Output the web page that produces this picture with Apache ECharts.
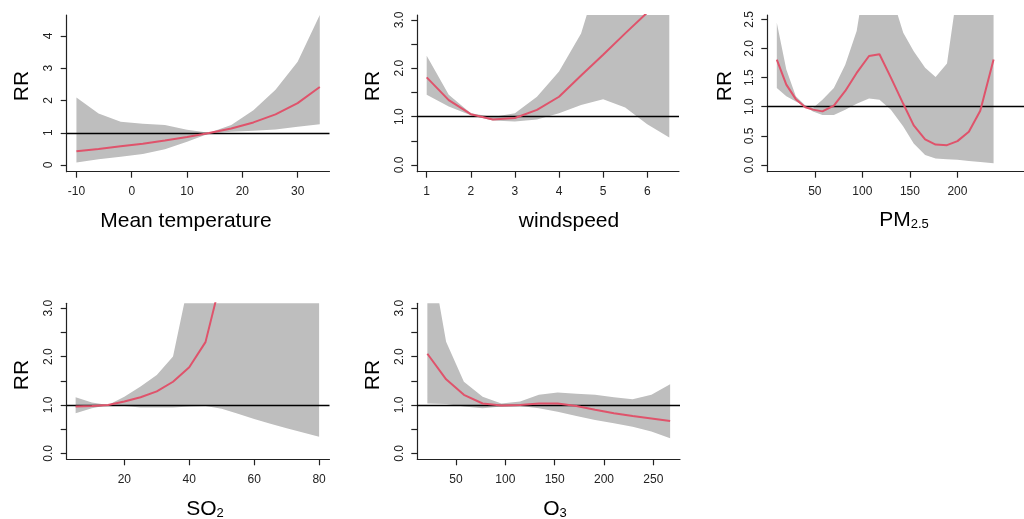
<!DOCTYPE html>
<html>
<head>
<meta charset="utf-8">
<script src="https://cdn.jsdelivr.net/npm/echarts@6/dist/echarts.min.js"></script>
<style>
  html, body { margin: 0; padding: 0; background: #fff; }
  #chart { width: 1024px; height: 519px; }
</style>
</head>
<body>
<div id="chart"></div>
<script>
// ---- Mean temperature ----
const tempX    = [-10, -6, -2, 2, 6, 10, 14, 18, 22, 26, 30, 34];
const tempRR   = [0.43, 0.50, 0.58, 0.66, 0.76, 0.87, 0.99, 1.13, 1.32, 1.57, 1.92, 2.42];
const tempLow  = [0.08, 0.18, 0.26, 0.34, 0.49, 0.72, 0.98, 1.03, 1.06, 1.10, 1.19, 1.26];
const tempHigh = [2.09, 1.60, 1.34, 1.28, 1.24, 1.09, 1.00, 1.24, 1.70, 2.33, 3.20, 4.65];
const tempXTicks = [-10, 0, 10, 20, 30];
const tempYTicks = [0, 1, 2, 3, 4];
const tempYLabels = [0, 1, 2, 3, 4];

// ---- Wind speed ----
const windX    = [1, 1.5, 2, 2.5, 3, 3.5, 4, 4.5, 5, 5.5, 6, 6.5];
const windRR   = [1.81, 1.34, 1.05, 0.94, 0.97, 1.14, 1.41, 1.85, 2.28, 2.72, 3.15, 3.58];
const windLow  = [1.45, 1.21, 1.03, 0.92, 0.90, 0.94, 1.07, 1.24, 1.36, 1.19, 0.84, 0.57];
const windHigh = [2.26, 1.45, 1.07, 0.99, 1.07, 1.41, 1.93, 2.72, 4.20, 5.20, 6.40, 7.80];
const windXTicks = [1, 2, 3, 4, 5, 6];
const windYTicks = [0, 0.5, 1, 1.5, 2, 2.5, 3];
const windYLabels = [0, 1, 2, 3];

// ---- PM2.5 ----
const pmX    = [10, 20, 30, 40, 48, 58, 70, 82, 94, 107, 118, 130, 143, 154, 166, 177, 189, 200, 212, 224, 238];
const pmRR   = [1.81, 1.38, 1.13, 0.99, 0.95, 0.92, 1.02, 1.27, 1.58, 1.87, 1.90, 1.50, 1.05, 0.68, 0.44, 0.35, 0.34, 0.41, 0.57, 0.93, 1.81];
const pmLow  = [1.32, 1.18, 1.09, 1.01, 0.92, 0.86, 0.86, 0.95, 1.05, 1.14, 1.12, 0.95, 0.66, 0.37, 0.17, 0.11, 0.10, 0.09, 0.07, 0.05, 0.03];
const pmHigh = [2.44, 1.64, 1.18, 1.02, 0.98, 1.12, 1.32, 1.72, 2.30, 3.60, 3.50, 2.95, 2.27, 1.95, 1.67, 1.51, 1.74, 3.00, 5.00, 7.00, 9.00];
const pmXTicks = [50, 100, 150, 200];
const pmYTicks = [0, 0.5, 1, 1.5, 2, 2.5];
const pmYLabels = [0, 0.5, 1, 1.5, 2, 2.5];

// ---- SO2 ----
const so2X    = [5, 10, 15, 20, 25, 30, 35, 40, 45, 50, 55, 60, 65, 70, 75, 80];
const so2RR   = [0.97, 0.98, 1.00, 1.07, 1.16, 1.28, 1.48, 1.78, 2.30, 3.65, 5.50, 8.50, 13.0, 20.0, 30.0, 45.0];
const so2Low  = [0.83, 0.93, 1.00, 0.98, 0.95, 0.945, 0.95, 0.97, 0.98, 0.92, 0.82, 0.71, 0.61, 0.52, 0.43, 0.34];
const so2High = [1.16, 1.05, 1.00, 1.17, 1.38, 1.62, 2.00, 3.60, 6.00, 10.0, 16.0, 25.0, 38.0, 55.0, 80.0, 110.0];
const so2XTicks = [20, 40, 60, 80];
const so2YTicks = [0, 0.5, 1, 1.5, 2, 2.5, 3];
const so2YLabels = [0, 1, 2, 3];

// ---- O3 ----
const o3X    = [21, 40, 58, 77, 96, 115, 134, 153, 172, 191, 210, 229, 248, 267];
const o3RR   = [2.06, 1.53, 1.21, 1.03, 0.99, 1.00, 1.03, 1.03, 0.98, 0.90, 0.83, 0.77, 0.72, 0.67];
const o3Low  = [1.03, 1.02, 0.97, 0.93, 0.97, 0.98, 0.93, 0.86, 0.77, 0.69, 0.62, 0.55, 0.45, 0.31];
const o3High = [4.50, 2.31, 1.48, 1.17, 1.03, 1.07, 1.21, 1.26, 1.23, 1.21, 1.16, 1.12, 1.21, 1.43];
const o3XTicks = [50, 100, 150, 200, 250];
const o3YTicks = [0, 0.5, 1, 1.5, 2, 2.5, 3];
const o3YLabels = [0, 1, 2, 3];

const FONT = '"Liberation Sans", Arial, sans-serif';
const AXIS_COLOR = '#222';
const BAND_COLOR = '#BEBEBE';
const CURVE_COLOR = '#DF536B';

// Plot regions (pixels) and axis extents for each panel
const panels = [
  { x: tempX, rr: tempRR, lo: tempLow, hi: tempHigh, xTicks: tempXTicks, yTicks: tempYTicks, yLabels: tempYLabels, digits: 0,
    grid: { left: 66.7, top: 15, width: 262.8, height: 156.7 }, xMin: -11.76, xMax: 35.76, yMin: -0.207, yMax: 4.65 },
  { x: windX, rr: windRR, lo: windLow, hi: windHigh, xTicks: windXTicks, yTicks: windYTicks, yLabels: windYLabels, digits: 1,
    grid: { left: 417.3, top: 15, width: 261.7, height: 156.7 }, xMin: 0.787, xMax: 6.72, yMin: -0.139, yMax: 3.10 },
  { x: pmX, rr: pmRR, lo: pmLow, hi: pmHigh, xTicks: pmXTicks, yTicks: pmYTicks, yLabels: pmYLabels, digits: 1,
    grid: { left: 767.3, top: 15, width: 288, height: 156.7 }, xMin: 0, xMax: 270, yMin: -0.115, yMax: 2.574 },
  { x: so2X, rr: so2RR, lo: so2Low, hi: so2High, xTicks: so2XTicks, yTicks: so2YTicks, yLabels: so2YLabels, digits: 1,
    grid: { left: 66.7, top: 303.3, width: 262.8, height: 156 }, xMin: 2.25, xMax: 83.2, yMin: -0.124, yMax: 3.103 },
  { x: o3X, rr: o3RR, lo: o3Low, hi: o3High, xTicks: o3XTicks, yTicks: o3YTicks, yLabels: o3YLabels, digits: 1,
    grid: { left: 417.3, top: 303.3, width: 262.7, height: 156 }, xMin: 10.8, xMax: 277, yMin: -0.124, yMax: 3.103 }
];

const grids = [], xAxes = [], yAxes = [], series = [];

panels.forEach((p, i) => {
  grids.push(Object.assign({ containLabel: false }, p.grid));

  const lineStyle = { color: AXIS_COLOR, width: 1.2 };
  const labelStyle = { fontSize: 12, color: AXIS_COLOR, fontFamily: FONT };

  xAxes.push({
    type: 'value', gridIndex: i, min: p.xMin, max: p.xMax,
    splitLine: { show: false },
    axisLine: { show: true, onZero: false, lineStyle },
    axisTick: { show: true, customValues: p.xTicks, length: 6, lineStyle },
    axisLabel: Object.assign({ customValues: p.xTicks, margin: 14 }, labelStyle)
  });

  yAxes.push({
    type: 'value', gridIndex: i, min: p.yMin, max: p.yMax,
    splitLine: { show: false },
    axisLine: { show: true, onZero: false, lineStyle },
    axisTick: { show: true, customValues: p.yTicks, length: 6, lineStyle },
    axisLabel: Object.assign({
      customValues: p.yLabels, margin: 12, rotate: 90,
      formatter: v => Number(v).toFixed(p.digits)
    }, labelStyle)
  });

  // confidence band: one polygon through the upper bounds and back along the lower bounds
  series.push({
    type: 'custom', xAxisIndex: i, yAxisIndex: i, clip: true, silent: true, z: 2,
    data: p.x.map((x, k) => [x, p.lo[k], p.hi[k]]),
    encode: { x: 0, y: [1, 2] },
    renderItem: (params, api) => {
      if (params.dataIndex !== 0) return null;
      const upper = p.x.map((x, k) => api.coord([x, p.hi[k]]));
      const lower = p.x.map((x, k) => api.coord([x, p.lo[k]])).reverse();
      return {
        type: 'polygon',
        shape: { points: upper.concat(lower) },
        style: { fill: BAND_COLOR, stroke: null }
      };
    },
    markLine: {
      silent: true, symbol: 'none', animation: false,
      label: { show: false },
      lineStyle: { color: '#000', width: 1.3, type: 'solid' },
      data: [{ yAxis: 1 }]
    }
  });
  // relative risk curve
  series.push({
    type: 'line', xAxisIndex: i, yAxisIndex: i,
    data: p.x.map((x, k) => [x, p.rr[k]]),
    symbol: 'none', silent: true, z: 10,
    lineStyle: { color: CURVE_COLOR, width: 2 }
  });
});

const titleStyle = (text, extra) => Object.assign({
  text, fontSize: 21, fontFamily: FONT, fill: '#000', align: 'center', verticalAlign: 'middle'
}, extra || {});

const subRich = {
  m: { fontSize: 21, fontFamily: FONT, fill: '#000', verticalAlign: 'bottom' },
  s: { fontSize: 13, fontFamily: FONT, fill: '#000', verticalAlign: 'bottom' }
};

const graphic = [
  { type: 'text', x: 186, y: 221, style: titleStyle('Mean temperature') },
  { type: 'text', x: 569, y: 221, style: titleStyle('windspeed') },
  { type: 'text', x: 904, y: 220, style: titleStyle('{m|PM}{s|2.5}', { rich: subRich }) },
  { type: 'text', x: 205, y: 509, style: titleStyle('{m|SO}{s|2}', { rich: subRich }) },
  { type: 'text', x: 555, y: 509, style: titleStyle('{m|O}{s|3}', { rich: subRich }) },
  { type: 'text', x: 22.7, y: 86, rotation: Math.PI / 2, style: titleStyle('RR') },
  { type: 'text', x: 373, y: 86, rotation: Math.PI / 2, style: titleStyle('RR') },
  { type: 'text', x: 725, y: 86, rotation: Math.PI / 2, style: titleStyle('RR') },
  { type: 'text', x: 22.7, y: 375, rotation: Math.PI / 2, style: titleStyle('RR') },
  { type: 'text', x: 373, y: 375, rotation: Math.PI / 2, style: titleStyle('RR') }
];

const chart = echarts.init(document.getElementById('chart'), null, { renderer: 'canvas' });
chart.setOption({
  animation: false,
  backgroundColor: '#fff',
  grid: grids,
  xAxis: xAxes,
  yAxis: yAxes,
  series,
  graphic
});
</script>
</body>
</html>
